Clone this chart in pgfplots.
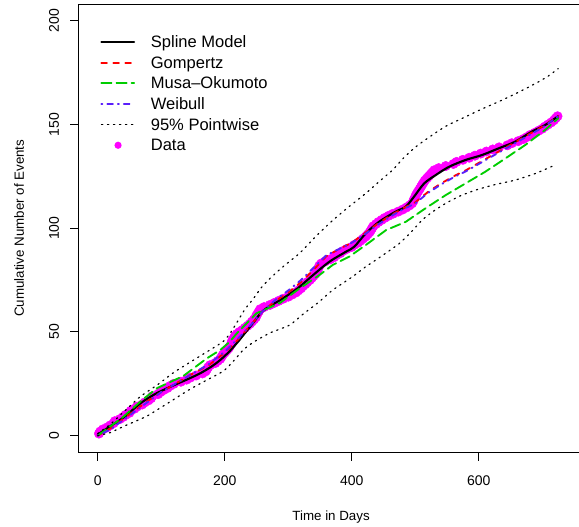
\documentclass[border=0pt]{standalone}
\usepackage{fontspec}
\setmainfont{Liberation Sans}
\usepackage{pgfplots}
\pgfplotsset{compat=1.18}

\definecolor{rgreen}{RGB}{0,205,0}
\definecolor{rblue}{RGB}{90,30,250}
\definecolor{rmag}{RGB}{255,0,255}

\begin{document}
\begin{tikzpicture}
\begin{axis}[
  name=ax,
  scale only axis,
  width=378.15pt, height=336pt,
  xmin=-29.4, xmax=764.4, ymin=-8, ymax=208,
  xtick={0,200,400,600}, ytick={0,50,100,150,200},
  tick pos=left, tick align=outside, major tick length=6.5pt,
  every tick/.style={black, line width=0.75pt},
  axis line style={line width=0.75pt},
  clip marker paths=true,
  /pgf/number format/assume math mode=true,
  ticklabel style={font=\fontsize{10.5}{12}\selectfont, inner sep=0pt},
  xticklabel style={anchor=north, yshift=-11pt},
  yticklabel style={xshift=-8.25pt, rotate=90, anchor=south},
  xlabel={Time in Days}, ylabel={Cumulative Number of Events},
  label style={font=\fontsize{10.5}{12}\selectfont},
  every axis x label/.style={at={(axis description cs:0.5,0)}, anchor=center, yshift=-48.4pt},
  every axis y label/.style={at={(axis description cs:0,0.5)}, xshift=-45pt, rotate=90, anchor=center},
  legend style={at={(axis description cs:0,1)}, anchor=north west, xshift=15.8pt, yshift=-22.8pt,
    draw=none, fill=none, inner sep=0pt, row sep=5pt, column sep=11.8pt,
    font=\fontsize{12.4}{14}\selectfont,
    nodes={inner sep=0pt, text height=9.5pt, text depth=1pt}},
  legend cell align=left,
  legend image code/.code={\draw[#1] (0pt,0pt) -- (24.5pt,0pt);},
  every axis plot/.append style={line cap=round},
]

% observed failure times (event number against day of failure)
\addplot[only marks, mark=*, mark size=3.5pt, color=rmag, forget plot] coordinates {
(2,1)(4,2)(8,3)(15,4)(20,5)(25,6)(27,7)(35,8)(40,9)(44,10)(50,11)(52,12)(58,13)(62,14)(70,15)(74,16)(80,17)(84,18)(86,19)
(95,20)(99,21)(104,22)(110,23)(114,24)(120,25)(131,26)(140,27)(146,28)(155,29)(165,30)(170,31)(172,32)(174,33)(177,34)
(185,35)(189,36)(193,37)(195,38)(197,39)(200,40)(203,41)(206,42)(208,43)(210,44)(211,45)(212,46)(214,47)(216,48)(219,49)
(223,50)(228,51)(232,52)(236,53)(240,54)(243,55)(246,56)(249,57)(250,58)(252,59)(254,60)(256,61)(262,62)(271,63)(278,64)
(285,65)(292,66)(300,67)(306,68)(312,69)(316,70)(320,71)(323,72)(327,73)(330,74)(334,75)(337,76)(340,77)(343,78)(345,79)
(346,80)(348,81)(349,82)(352,83)(358,84)(366,85)(372,86)(376,87)(382,88)(386,89)(392,90)(400,91)(404,92)(410,93)(414,94)
(418,95)(422,96)(425,97)(428,98)(430,99)(432,100)(434,101)(438,102)(442,103)(447,104)(452,105)(458,106)(465,107)(473,108)
(480,109)(486,110)(491,111)(495,112)(497,113)(498,114)(500,115)(501,116)(503,117)(505,118)(507,119)(509,120)(511,121)
(513,122)(515,123)(518,124)(521,125)(524,126)(527,127)(530,128)(537,129)(548,130)(560,131)(565,132)(575,133)(585,134)
(594,135)(603,136)(612,137)(622,138)(632,139)(645,140)(652,141)(662,142)(670,143)(676,144)(681,145)(688,146)(694,147)
(700,148)(704,149)(709,150)(714,151)(718,152)(721,153)(724,154)
};

% spline model fit
\addplot[black, line width=1.6pt, smooth, tension=0.5] coordinates {
(0,0.5)(20,4.6)(41,8.8)(67,15.5)(90,20)(119,24.2)(140,27)(161,30)(180,33.5)(193,36.5)(207,40.5)(219,44.6)(232,49.5)
(245,54.5)(258,59.5)(271,62.5)(287,65.3)(303,68.5)(318,71.8)(339,77.4)(365,83.9)(391,88.7)(404,91.1)(422,97.5)(443,103.1)
(469,108)(485,110.4)(498,115.2)(514,121.6)(532,125.6)(553,129.6)(579,132.9)(605,135.3)(631,138.5)(657,141.7)(683,146.5)
(704,149.7)(725,154)
};
\addlegendentry{Spline Model}

% Gompertz
\addplot[red, line width=1.4pt, dash pattern=on 4.2pt off 4.8pt] coordinates {
(0,0)(20,3.5)(40,8)(60,12.5)(80,17)(100,21)(125,25.5)(150,30)(175,34)(200,40)(220,46)(240,53)(260,60)(280,65)(300,69)
(320,74)(340,80)(360,86.5)(380,90)(400,93)(420,97.5)(440,102)(460,106)(480,109.5)(500,112.5)(520,117.5)(540,121.5)(560,125)
(580,128)(600,131.5)(620,135)(640,138.5)(660,142)(680,145.5)(700,149)(725,154)
};
\addlegendentry{Gompertz}

% Musa-Okumoto
\addplot[rgreen, line width=1.4pt, dash pattern=on 7.6pt off 3.7pt] coordinates {
(0,0)(40,9)(70,17.2)(94,23)(135,28.8)(172,37.3)(193,41.3)(208,45.3)(219,49.3)(250,59)(287,64)(318,71)(349,77.4)(370,82.3)
(396,86.3)(422,91.9)(454,99.1)(485,103.1)(516,109.6)(548,116)(579,121.6)(610,127.2)(642,133.7)(673,140.1)(704,147.3)(725,153)
};
\addlegendentry{Musa--Okumoto}

% Weibull
\addplot[rblue, line width=1.4pt, dash pattern=on 0.8pt off 3.7pt on 4.2pt off 3.7pt] coordinates {
(0,0)(20,3)(40,7.5)(60,12)(80,16.5)(100,21)(125,25.5)(150,30)(175,34.5)(200,40.5)(220,46.5)(240,53)(260,60)(280,65.5)(300,70)
(320,75)(340,81)(360,87)(380,90)(400,93)(420,97)(440,101.5)(460,105.5)(480,109)(500,112)(520,117)(540,121)(560,124.5)
(580,127.5)(600,131)(620,134.5)(640,138)(660,141.5)(680,145)(700,148.5)(725,154)
};
\addlegendentry{Weibull}

% pointwise 95% band
\addplot[black, line width=0.9pt, dash pattern=on 1.0pt off 3.5pt, smooth, tension=0.4] coordinates {
(0,1)(20,5.5)(41,11.5)(67,18.8)(94,24.5)(120,30.5)(146,35.5)(175,41)(198,45.5)(210,50)(222,56)(232,61)(245,66)
(258,71.5)(272,76)(290,81)(318,88)(340,95)(365,102.4)(390,109)(422,116.8)(445,123)(464,128)(482,134)(501,139.3)(527,145)
(550,149.5)(579,153.7)(605,157.5)(631,161)(652,164)(675,167.5)(694,170.6)(710,173.5)(725,177)
};
\addlegendentry{95\% Pointwise}
\addplot[black, line width=0.9pt, dash pattern=on 1.0pt off 3.5pt, smooth, tension=0.4, forget plot] coordinates {
(0,0)(20,1.5)(41,4.5)(60,7)(78,9.5)(94,12.5)(120,17.5)(146,22.5)(170,26.5)(198,31.2)(214,36)(229,41.3)(245,45)
(271,49.5)(302,53.3)(325,59)(349,64.6)(370,70.2)(401,76.6)(420,81)(438,84.7)(456,88.5)(475,92.7)(493,98)(511,104)
(530,108.5)(548,112)(570,115.5)(595,118.4)(625,121)(657,123.2)(690,126.5)(720,130.5)
};

\addlegendimage{legend image code/.code={\path[draw=none, fill=none] (0pt,-1pt) rectangle (24.5pt,1pt); \fill[rmag, draw=none] (12.5pt,0pt) circle[radius=2.7pt];}}
\addlegendentry{Data}
\end{axis}
\pgfresetboundingbox
\path[use as bounding box] ([shift={(-59.25pt,-56pt)}]ax.south west) rectangle ([shift={(375pt,3.2pt)}]ax.north west);
\end{tikzpicture}
\end{document}
